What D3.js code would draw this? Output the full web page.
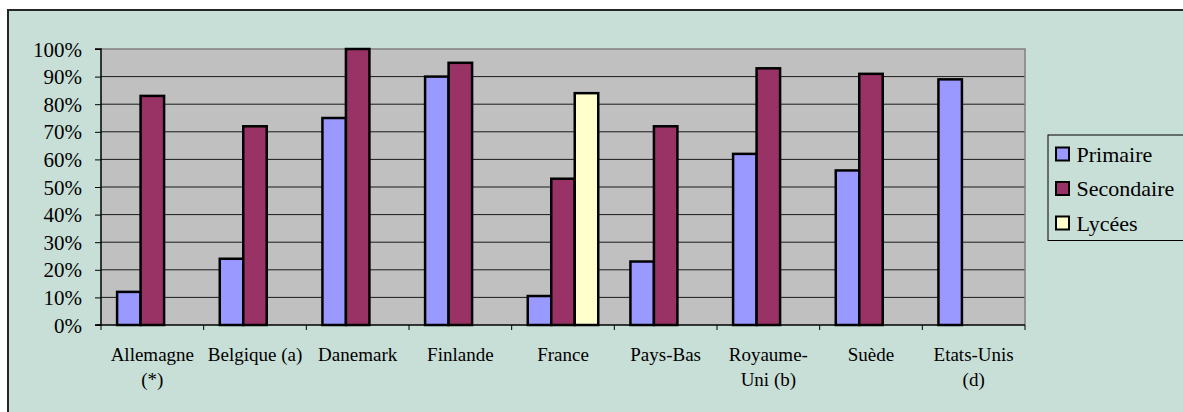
<!DOCTYPE html>
<html>
<head>
<meta charset="utf-8">
<script src="https://cdn.jsdelivr.net/npm/d3@7"></script>
<style>
  html, body { margin: 0; padding: 0; background: #ffffff; }
  svg { display: block; }
  svg text { font-family: "Liberation Serif", "Times New Roman", serif !important; }
</style>
</head>
<body>
<svg id="chart" width="1183" height="412"></svg>
<script>
// Country labels (line breaks as shown under the axis)
const categories = [
  ["Allemagne", "(*)"],
  ["Belgique (a)"],
  ["Danemark"],
  ["Finlande"],
  ["France"],
  ["Pays-Bas"],
  ["Royaume-", "Uni (b)"],
  ["Suède"],
  ["Etats-Unis", "(d)"]
];
const seriesNames = ["Primaire", "Secondaire", "Lycées"];
// Shares in percent, one value per country (null = no data)
const primaire   = [12, 24, 75, 90, 10.5, 23, 62, 56, 89];
const secondaire = [83, 72, 100, 95, 53, 72, 93, 91, null];
const lycees     = [null, null, null, null, 84, null, null, null, null];
const yTicks = [0, 10, 20, 30, 40, 50, 60, 70, 80, 90, 100];
const colors = ["#9999ff", "#993366", "#ffffcc"];

const SERIF = "'Liberation Serif', 'Times New Roman', serif";
const svg = d3.select("#chart");

// Chart frame
svg.append("rect")
  .attr("x", 8).attr("y", 10).attr("width", 1200).attr("height", 420)
  .attr("fill", "#c8dfd7").attr("stroke", "#262626").attr("stroke-width", 2);

const plot = { left: 101, right: 1025, top: 49, bottom: 325 };

const x = d3.scaleBand()
  .domain(d3.range(categories.length))
  .range([plot.left, plot.right])
  .paddingInner(0).paddingOuter(0);

const xs = d3.scaleBand()
  .domain(d3.range(seriesNames.length))
  .range([0, x.bandwidth()])
  .paddingInner(0).paddingOuter(0.685);

const y = d3.scaleLinear().domain([0, 100]).range([plot.bottom, plot.top]);

// Plot area
svg.append("rect")
  .attr("x", plot.left).attr("y", plot.top)
  .attr("width", plot.right - plot.left).attr("height", plot.bottom - plot.top)
  .attr("fill", "#c0c0c0");

// Horizontal gridlines
svg.append("g")
  .selectAll("line")
  .data(yTicks.filter(t => t > 0 && t < 100))
  .join("line")
  .attr("x1", plot.left).attr("x2", plot.right)
  .attr("y1", d => y(d)).attr("y2", d => y(d))
  .attr("stroke", "#1a1a1a").attr("stroke-width", 1);

// Plot border (top and right)
svg.append("path")
  .attr("d", `M${plot.left},${y(100)}H${plot.right}V${plot.bottom}`)
  .attr("fill", "none").attr("stroke", "#808080").attr("stroke-width", 1.5);

// Bars
const series = [primaire, secondaire, lycees];
const bars = [];
series.forEach((vals, s) => {
  vals.forEach((v, i) => { if (v != null) bars.push({ s, i, v }); });
});
svg.append("g")
  .selectAll("rect")
  .data(bars)
  .join("rect")
  .attr("x", d => x(d.i) + xs(d.s))
  .attr("y", d => y(d.v))
  .attr("width", xs.bandwidth())
  .attr("height", d => y(0) - y(d.v))
  .attr("fill", d => colors[d.s])
  .attr("stroke", "#000").attr("stroke-width", 2.5);

// Y axis
const yAxis = d3.axisLeft(y)
  .tickValues(yTicks)
  .tickFormat(d => d + "%")
  .tickSize(6).tickPadding(13);
const gy = svg.append("g").attr("transform", `translate(${plot.left},0)`).call(yAxis);
gy.attr("font-family", SERIF).attr("font-size", 21);
gy.select(".domain").attr("stroke", "#000").attr("stroke-width", 1.5).attr("d", `M-6,${y(100)}H0V${y(0)}H-6`);
gy.selectAll(".tick line").attr("stroke", "#000");
gy.selectAll(".tick text")
  .attr("fill", "#000")
  .attr("font-family", SERIF)
  .attr("font-size", 21)
  .attr("dy", "0.34em");

// X axis: ticks on category boundaries
const gx = svg.append("g");
gx.append("line")
  .attr("x1", plot.left - 4).attr("x2", plot.right)
  .attr("y1", y(0)).attr("y2", y(0))
  .attr("stroke", "#000").attr("stroke-width", 1.5);
gx.selectAll("line.tk")
  .data(d3.range(categories.length + 1))
  .join("line")
  .attr("class", "tk")
  .attr("x1", d => plot.left + d * x.step()).attr("x2", d => plot.left + d * x.step())
  .attr("y1", y(0)).attr("y2", y(0) + 5)
  .attr("stroke", "#000").attr("stroke-width", 1);

const labels = gx.selectAll("text.cat")
  .data(categories)
  .join("text")
  .attr("class", "cat")
  .attr("text-anchor", "middle")
  .attr("fill", "#000")
  .attr("font-family", SERIF)
  .attr("font-size", 19);
labels.each(function (lines, i) {
  const t = d3.select(this);
  lines.forEach((ln, k) => {
    t.append("tspan")
      .attr("x", x(i) + x.bandwidth() / 2)
      .attr("y", 360.5 + k * 25.5)
      .text(ln);
  });
});

// Legend
const lg = svg.append("g");
lg.append("rect")
  .attr("x", 1048).attr("y", 135).attr("width", 200).attr("height", 105.5)
  .attr("fill", "none").attr("stroke", "#000").attr("stroke-width", 1);
seriesNames.forEach((name, s) => {
  const base = 161.5 + s * 34.5;
  lg.append("rect")
    .attr("x", 1056).attr("y", base - 14)
    .attr("width", 13).attr("height", 13)
    .attr("fill", colors[s]).attr("stroke", "#000").attr("stroke-width", 2);
  lg.append("text")
    .attr("x", 1076.5).attr("y", base)
    .attr("fill", "#000")
    .attr("font-family", SERIF)
    .attr("font-size", 22)
    .text(name);
});
</script>
</body>
</html>
